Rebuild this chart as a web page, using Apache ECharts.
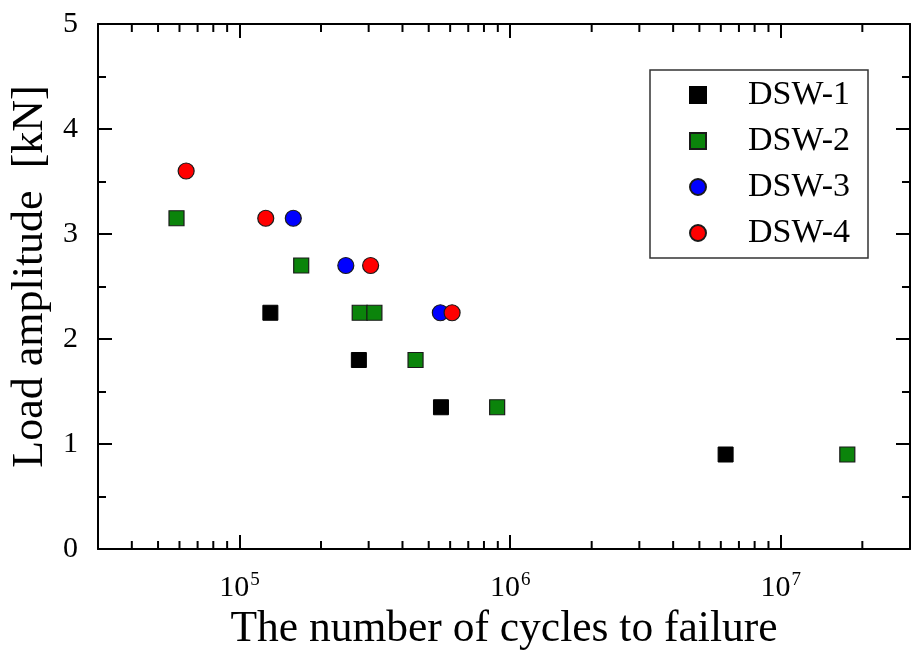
<!DOCTYPE html>
<html>
<head>
<meta charset="utf-8">
<title>Load amplitude vs. cycles to failure</title>
<script src="https://cdn.jsdelivr.net/npm/echarts@6/dist/echarts.min.js"></script>
<style>
  html, body { margin: 0; padding: 0; background: #fff; }
  #chart { width: 914px; height: 652px; }
</style>
</head>
<body>
<div id="chart"></div>
<script>
// Fatigue test results: cycles to failure (x) against load amplitude in kN (y)
const dsw1Cycles = [1.30e5, 2.76e5, 5.55e5, 6.25e6];
const dsw1Load   = [2.25, 1.80, 1.35, 0.90];

const dsw2Cycles = [5.85e4, 1.69e5, 2.78e5, 3.15e5, 4.47e5, 8.95e5, 1.76e7];
const dsw2Load   = [3.15, 2.70, 2.25, 2.25, 1.80, 1.35, 0.90];

const dsw3Cycles = [1.58e5, 2.47e5, 5.52e5];
const dsw3Load   = [3.15, 2.70, 2.25];

const dsw4Cycles = [6.35e4, 1.25e5, 3.05e5, 6.10e5];
const dsw4Load   = [3.60, 3.15, 2.70, 2.25];

const seriesNames = ['DSW-1', 'DSW-2', 'DSW-3', 'DSW-4'];

// Axis ranges and the minor (2..9 x 10^n) tick values of the log axis
const xMin = 3e4, xMax = 3e7;
const yMin = 0, yMax = 5;
const xMinorTickValues = [4e4, 5e4, 6e4, 7e4, 8e4, 9e4,
                          2e5, 3e5, 4e5, 5e5, 6e5, 7e5, 8e5, 9e5,
                          2e6, 3e6, 4e6, 5e6, 6e6, 7e6, 8e6, 9e6,
                          2e7];

const xTitle = 'The number of cycles to failure';
const yTitle = 'Load amplitude  [kN]';

const serif = '"Times New Roman", "Liberation Serif", "DejaVu Serif", serif';

function pairs(xs, ys) { return xs.map((x, i) => [x, ys[i]]); }

function powerLabel(v) {
  const e = Math.log10(v);
  if (Math.abs(e - Math.round(e)) > 1e-6) return '';
  return '{b|10}{s|' + Math.round(e) + '}';
}

function axisLine() { return { show: true, onZero: false, lineStyle: { color: '#000', width: 2 } }; }
function majorTick() { return { show: true, inside: true, length: 14, lineStyle: { color: '#000', width: 2 } }; }
function minorTick() { return { show: true, splitNumber: 2, length: 8, lineStyle: { color: '#000', width: 2 } }; }

const chart = echarts.init(document.getElementById('chart'), null, { renderer: 'canvas' });

const option = {
  backgroundColor: '#fff',
  animation: false,
  // fixed plot frame; labels and titles are placed around it without shrinking it
  grid: { left: 98, right: 4, top: 24, bottom: 103, containLabel: false, outerBoundsMode: 'none' },
  legend: {
    data: seriesNames,
    orient: 'vertical',
    left: 650,
    top: 70,
    padding: [8, 18, 8, 39],
    itemWidth: 16,
    itemHeight: 16,
    itemGap: 12,
    symbolKeepAspect: true,
    borderColor: '#333',
    borderWidth: 1.5,
    backgroundColor: '#fff',
    textStyle: { fontFamily: serif, fontSize: 34, color: '#000', lineHeight: 33, padding: [0, 0, 0, 37] }
  },
  xAxis: [
    {
      type: 'log', logBase: 10, min: xMin, max: xMax,
      position: 'bottom',
      axisLine: axisLine(), axisTick: majorTick(),
      splitLine: { show: false },
      axisLabel: {
        margin: 24,
        formatter: powerLabel,
        rich: {
          b: { fontFamily: serif, fontSize: 30, color: '#000', lineHeight: 30, verticalAlign: 'bottom' },
          s: { fontFamily: serif, fontSize: 19, color: '#000', lineHeight: 19, verticalAlign: 'bottom', padding: [0, 0, 13, 1] }
        }
      },
      name: xTitle, nameLocation: 'middle', nameGap: 49,
      nameTextStyle: { fontFamily: serif, fontSize: 43.5, color: '#000' }
    },
    {
      type: 'log', logBase: 10, min: xMin, max: xMax,
      position: 'top',
      axisLine: axisLine(), axisTick: majorTick(),
      axisLabel: { show: false }, splitLine: { show: false }
    }
  ],
  yAxis: [
    {
      type: 'value', min: yMin, max: yMax, interval: 1,
      position: 'left',
      axisLine: axisLine(), axisTick: majorTick(), minorTick: minorTick(),
      splitLine: { show: false }, minorSplitLine: { show: false },
      axisLabel: { margin: 20, fontFamily: serif, fontSize: 30, color: '#000' },
      name: yTitle, nameLocation: 'middle', nameGap: 41,
      nameTextStyle: { fontFamily: serif, fontSize: 44, color: '#000', padding: [0, 0, 0, 20] }
    },
    {
      type: 'value', min: yMin, max: yMax, interval: 1,
      position: 'right',
      axisLine: axisLine(), axisTick: majorTick(), minorTick: minorTick(),
      splitLine: { show: false }, minorSplitLine: { show: false },
      axisLabel: { show: false }
    }
  ],
  series: [
    {
      // minor ticks of the log axes, bottom and top
      type: 'custom',
      silent: true,
      clip: false,
      z: 1,
      data: xMinorTickValues.map(v => [v, yMin]),
      encode: { x: 0, y: 1 },
      renderItem: function (params, api) {
        const v = api.value(0);
        const b = api.coord([v, yMin]);
        const t = api.coord([v, yMax]);
        const st = { stroke: '#000', lineWidth: 2 };
        return {
          type: 'group',
          children: [
            { type: 'line', shape: { x1: b[0], y1: b[1], x2: b[0], y2: b[1] - 8 }, style: st },
            { type: 'line', shape: { x1: t[0], y1: t[1], x2: t[0], y2: t[1] + 8 }, style: st }
          ]
        };
      }
    },
    {
      name: 'DSW-1', type: 'scatter', symbol: 'rect', symbolSize: 15, z: 3,
      itemStyle: { color: '#000', borderColor: '#000', borderWidth: 1, opacity: 1 },
      data: pairs(dsw1Cycles, dsw1Load)
    },
    {
      name: 'DSW-2', type: 'scatter', symbol: 'rect', symbolSize: 15, z: 3,
      itemStyle: { color: '#0b840b', borderColor: '#1a1a1a', borderWidth: 1.2, opacity: 1 },
      data: pairs(dsw2Cycles, dsw2Load)
    },
    {
      name: 'DSW-3', type: 'scatter', symbol: 'circle', symbolSize: 16, z: 3,
      itemStyle: { color: '#0000ff', borderColor: '#1a1a1a', borderWidth: 1.2, opacity: 1 },
      data: pairs(dsw3Cycles, dsw3Load)
    },
    {
      name: 'DSW-4', type: 'scatter', symbol: 'circle', symbolSize: 16, z: 3,
      itemStyle: { color: '#ff0000', borderColor: '#1a1a1a', borderWidth: 1.2, opacity: 1 },
      data: pairs(dsw4Cycles, dsw4Load)
    }
  ]
};

chart.setOption(option);
</script>
</body>
</html>
